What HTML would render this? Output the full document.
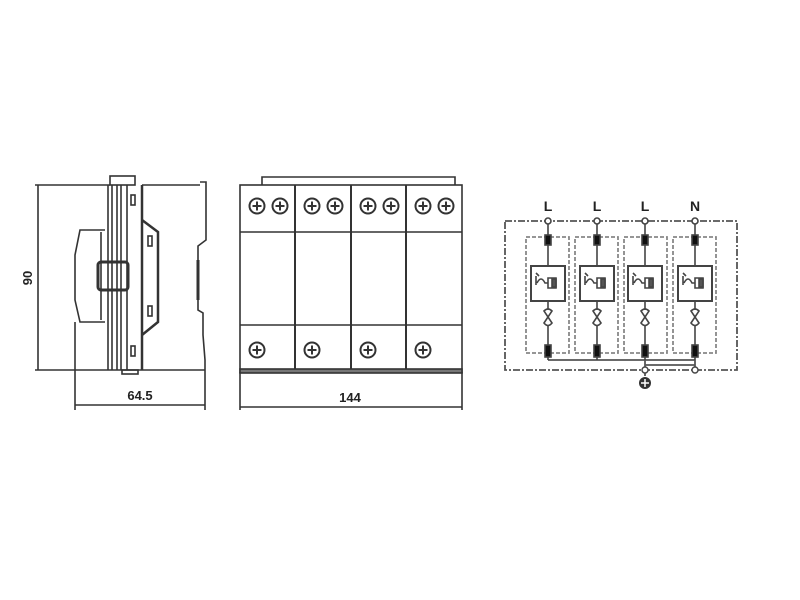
<!DOCTYPE html>
<html><head><style>body{margin:0;background:#fff}svg{display:block}</style></head><body>
<svg width="800" height="600" viewBox="0 0 800 600" xmlns="http://www.w3.org/2000/svg" font-family="Liberation Sans, sans-serif">
<defs>
<g id="sc" stroke="#333" fill="#fff" stroke-width="2"><circle r="7.5"/><path d="M-4.5 0H4.5M0 -4.5V4.5" stroke-width="2"/></g>
</defs>
<g stroke="#333" fill="none" stroke-width="1.6">
<!-- left side view -->
<line x1="35" y1="185" x2="110" y2="185"/><line x1="35" y1="370" x2="205" y2="370"/>
<line x1="38" y1="185" x2="38" y2="370"/>
<line x1="75" y1="322" x2="75" y2="410"/><line x1="205" y1="370" x2="205" y2="410"/>
<line x1="75" y1="405" x2="205" y2="405"/>
<rect x="110" y="176" width="25" height="9"/>
<line x1="108" y1="185" x2="108" y2="370"/><line x1="112" y1="185" x2="112" y2="370"/>
<line x1="117" y1="185" x2="117" y2="370"/><line x1="121" y1="185" x2="121" y2="370"/>
<line x1="127" y1="185" x2="127" y2="370"/><line x1="142" y1="185" x2="142" y2="370" stroke-width="2.5"/>
<path d="M105 230 H80 L75 255 V300 L80 322 H105" />
<line x1="101" y1="232" x2="101" y2="320"/>
<rect x="98" y="262" width="30" height="28" rx="3" stroke-width="3"/>
<path d="M142 220 L158 232 V322 L142 335" stroke-width="2.5"/>
<line x1="142" y1="185" x2="200" y2="185"/>
<rect x="131" y="195" width="4" height="10"/><rect x="148" y="236" width="4" height="10"/>
<rect x="148" y="306" width="4" height="10"/><rect x="131" y="346" width="4" height="10"/>
<path d="M200 182 H206 V240 L198 246 V310 L203 313 V335 L205 360 V370"/>
<line x1="198" y1="260" x2="198" y2="300" stroke-width="3"/>
<rect x="122" y="370" width="16" height="4"/>
<!-- front view -->
<rect x="240" y="185" width="222" height="187"/>
<path d="M262 185 V177 H455 V185"/>
<line x1="295" y1="185" x2="295" y2="372" stroke-width="2"/><line x1="351" y1="185" x2="351" y2="372" stroke-width="2"/><line x1="406" y1="185" x2="406" y2="372" stroke-width="2"/>
<line x1="240" y1="232" x2="462" y2="232"/><line x1="240" y1="325" x2="462" y2="325"/>
<rect x="240" y="369" width="222" height="4" fill="#777"/>
<line x1="240" y1="372" x2="240" y2="410"/><line x1="462" y1="372" x2="462" y2="410"/>
<line x1="240" y1="407" x2="462" y2="407"/>
</g>
<use href="#sc" x="257" y="206"/><use href="#sc" x="280" y="206"/><use href="#sc" x="312" y="206"/><use href="#sc" x="335" y="206"/>
<use href="#sc" x="368" y="206"/><use href="#sc" x="391" y="206"/><use href="#sc" x="423" y="206"/><use href="#sc" x="446" y="206"/>
<use href="#sc" x="257" y="350"/><use href="#sc" x="312" y="350"/><use href="#sc" x="368" y="350"/><use href="#sc" x="423" y="350"/>
<g font-weight="bold" font-size="13" fill="#222">
<text x="140" y="400" text-anchor="middle">64.5</text>
<text x="350" y="402" text-anchor="middle">144</text>
<text transform="translate(32 278) rotate(-90)" text-anchor="middle">90</text>
<text x="548" y="211" text-anchor="middle" font-size="14">L</text>
<text x="597" y="211" text-anchor="middle" font-size="14">L</text>
<text x="645" y="211" text-anchor="middle" font-size="14">L</text>
<text x="695" y="211" text-anchor="middle" font-size="14">N</text>
</g>
<!-- schematic -->
<g stroke="#555" fill="none" stroke-width="1.8">
<rect x="505" y="221" width="232" height="149" stroke-dasharray="7,2,2,2"/>
<rect x="526" y="237" width="43" height="116" stroke-dasharray="4,2" stroke="#888"/>
<rect x="575" y="237" width="43" height="116" stroke-dasharray="4,2" stroke="#888"/>
<rect x="624" y="237" width="43" height="116" stroke-dasharray="4,2" stroke="#888"/>
<rect x="673" y="237" width="43" height="116" stroke-dasharray="4,2" stroke="#888"/>
<line x1="548" y1="360" x2="695" y2="360"/><line x1="645" y1="365" x2="695" y2="365"/>
<line x1="645" y1="360" x2="645" y2="376"/><line x1="695" y1="360" x2="695" y2="370"/>
</g>
<g id="br" stroke="#444" fill="none" stroke-width="1.6">
<line x1="548" y1="224" x2="548" y2="360"/>
<circle cx="548" cy="221" r="3" fill="#fff"/>
<rect x="545" y="235" width="6" height="10" fill="#111"/>
<rect x="531" y="266" width="34" height="35" fill="#fff" stroke-width="2"/>
<path d="M536 285 V276 M536 273 l3 3 M537 283 q4 -8 8 0 h3 v-5 h8 v10 h-8 v-5" />
<rect x="552" y="279" width="4" height="8" fill="#555"/>
<path d="M544 311 q4 -4 8 0 l-8 12 q4 5 8 0 z" fill="#fff"/>
<rect x="545" y="345" width="6" height="12" fill="#111"/>
</g>
<use href="#br" x="49"/><use href="#br" x="97"/><use href="#br" x="147"/>
<circle cx="645" cy="370" r="3" fill="#fff" stroke="#444" stroke-width="1.4"/>
<circle cx="695" cy="370" r="3" fill="#fff" stroke="#444" stroke-width="1.4"/>
<circle cx="645" cy="383" r="6" fill="#333"/>
<path d="M641 383h8M645 379v8" stroke="#fff" stroke-width="1.5"/>
</svg>
</body></html>
